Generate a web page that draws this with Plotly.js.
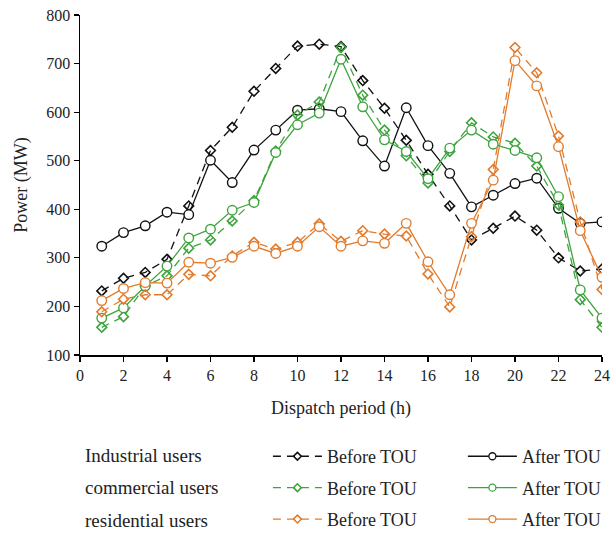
<!DOCTYPE html>
<html>
<head>
<meta charset="utf-8">
<script src="https://cdn.plot.ly/plotly-3.0.1.min.js"></script>
<style>
  html, body { margin: 0; padding: 0; background: #fff; }
  #chart { width: 611px; height: 535px; }
</style>
</head>
<body>
<div id="chart"></div>
<script>
// Dispatch periods (hours)
const hours = [1,2,3,4,5,6,7,8,9,10,11,12,13,14,15,16,17,18,19,20,21,22,23,24];

// Load curves (MW) before and after time-of-use pricing
const industrialBefore  = [232,258,270,297,407,521,569,643,690,736,740,735,665,608,542,472,407,337,361,386,357,300,273,277];
const industrialAfter   = [324,352,366,394,389,501,455,522,563,604,607,601,541,489,609,531,474,405,429,453,464,402,371,374];
const commercialBefore  = [157,179,242,263,320,337,376,418,520,594,621,733,635,563,510,454,519,578,549,536,489,409,214,157];
const commercialAfter   = [176,197,242,283,341,359,398,414,517,574,598,709,611,543,519,463,526,563,534,521,506,426,234,176];
const residentialBefore = [189,215,224,224,266,263,304,332,318,332,370,334,356,349,345,267,199,344,482,733,681,551,374,235];
const residentialAfter  = [212,237,249,248,291,289,301,324,309,324,364,324,335,330,371,292,224,371,460,706,654,529,356,260];

const rowLabels = ['Industrial users', 'commercial users', 'residential users'];
const beforeLabel = 'Before TOU';
const afterLabel = 'After TOU';

const BLACK = '#111111';
const GREEN = '#3ea43e';
const ORANGE = '#e27b2c';
const FONT = 'Liberation Serif, Times New Roman, serif';
const TEXT = '#222';

const beforeLine = c => ({color: c, width: 1.3, dash: '8px,6px'});
const afterLine = c => ({color: c, width: 1.3});

function before(y, color) {
  return {
    x: hours, y: y, type: 'scatter', mode: 'lines+markers', showlegend: false,
    line: beforeLine(color),
    marker: {symbol: 'diamond-open', size: 7.5, color: color, line: {width: 1.6, color: color}}
  };
}
function after(y, color) {
  return {
    x: hours, y: y, type: 'scatter', mode: 'lines+markers', showlegend: false,
    line: afterLine(color),
    marker: {symbol: 'circle', size: 9.5, color: '#ffffff', line: {width: 1.4, color: color}}
  };
}
// Legend-only entries, with smaller symbols than the plotted markers
function keyBefore(color, group) {
  return {
    x: [null], y: [null], type: 'scatter', mode: 'lines+markers', name: beforeLabel,
    legend: 'legend', legendgroup: group,
    line: beforeLine(color),
    marker: {symbol: 'diamond-open', size: 6, color: color, line: {width: 1.6, color: color}}
  };
}
function keyAfter(color, group) {
  return {
    x: [null], y: [null], type: 'scatter', mode: 'lines+markers', name: afterLabel,
    legend: 'legend2', legendgroup: group,
    line: afterLine(color),
    marker: {symbol: 'circle', size: 7, color: '#ffffff', line: {width: 1.3, color: color}}
  };
}

const traces = [
  before(industrialBefore, BLACK),
  after(industrialAfter, BLACK),
  before(commercialBefore, GREEN),
  after(commercialAfter, GREEN),
  before(residentialBefore, ORANGE),
  after(residentialAfter, ORANGE),
  keyBefore(BLACK, 'g1'), keyBefore(GREEN, 'g2'), keyBefore(ORANGE, 'g3'),
  keyAfter(BLACK, 'h1'), keyAfter(GREEN, 'h2'), keyAfter(ORANGE, 'h3')
];

const rowY = [-0.297, -0.391, -0.488];
const annotations = rowLabels.map((t, i) => ({
  text: t, xref: 'paper', yref: 'paper', x: 0.006, y: rowY[i],
  xanchor: 'left', yanchor: 'middle', showarrow: false,
  font: {family: FONT, size: 19, color: TEXT}
}));

const legendBase = {
  orientation: 'v', traceorder: 'grouped', tracegroupgap: 5,
  font: {family: FONT, size: 18, color: TEXT},
  bgcolor: 'rgba(0,0,0,0)', itemwidth: 49,
  xref: 'paper', yref: 'container', xanchor: 'left', yanchor: 'top'
};

const layout = {
  width: 611, height: 535,
  margin: {l: 80, r: 9, t: 15, b: 180},
  paper_bgcolor: '#fff', plot_bgcolor: '#fff',
  font: {family: FONT, size: 16, color: TEXT},
  showlegend: true,
  xaxis: {
    range: [0, 24], dtick: 2, tick0: 0,
    showline: true, linecolor: '#000', linewidth: 1.5, mirror: false,
    ticks: 'outside', ticklen: 5, tickwidth: 1.2, tickcolor: '#000',
    showgrid: false, zeroline: false,
    tickfont: {family: FONT, size: 16, color: TEXT},
    title: {text: 'Dispatch period (h)', font: {family: FONT, size: 18, color: TEXT}, standoff: 18}
  },
  yaxis: {
    range: [100, 800], dtick: 100,
    showline: true, linecolor: '#000', linewidth: 1.5,
    ticks: 'outside', ticklen: 5, tickwidth: 1.2, tickcolor: '#000',
    showgrid: false, zeroline: false,
    tickfont: {family: FONT, size: 16, color: TEXT},
    title: {text: 'Power (MW)', font: {family: FONT, size: 18, color: TEXT}, standoff: 14}
  },
  legend: Object.assign({}, legendBase, {x: 0.36, y: 0.1812}),
  legend2: Object.assign({}, legendBase, {x: 0.7335, y: 0.1812}),
  annotations: annotations
};

Plotly.newPlot('chart', traces, layout, {displayModeBar: false, staticPlot: true});
</script>
</body>
</html>
